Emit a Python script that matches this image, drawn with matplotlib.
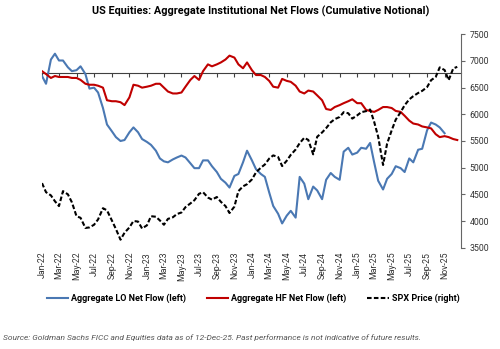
import matplotlib.pyplot as plt
import matplotlib.dates as mdates
import pandas as pd

plt.rcParams["font.family"] = ["Roboto", "DejaVu Sans"]

# semi-monthly observations, Jan-22 .. Dec-25
dates = pd.date_range("2022-01-01", "2025-12-15", freq="SMS")

# cumulative notional net flows, $bn (left axis, hidden)
lo_flow = [-3, -11, 14, 20, 13, 13, 6, 2, 3, 7,
           -1, -16, -15, -20, -36, -53, -60, -66, -70, -69,
           -61, -56, -61, -68, -71, -74, -80, -88, -91, -92,
           -89, -87, -85, -87, -93, -98, -98, -90, -90, -96,
           -102, -109, -113, -118, -106, -104, -92, -80, -90, -99,
           -104, -107, -123, -137, -145, -155, -147, -142, -149, -107,
           -114, -130, -117, -121, -130, -110, -103, -107, -110, -81,
           -77, -84, -82, -77, -78, -72, -92, -111, -120, -109,
           -104, -96, -98, -102, -88, -92, -79, -78, -59, -51,
           -53, -56, -62]
hf_flow = [2, -1, -5, -3, -4, -4, -4, -5, -5, -7,
           -11, -12, -12, -13, -15, -28, -29, -29, -30, -33,
           -25, -12, -13, -15, -14, -13, -11, -11, -15, -19,
           -21, -21, -20, -14, -7, -3, -7, 2, 9, 7,
           9, 11, 14, 18, 16, 9, 5, 11, 3, -2,
           -2, -4, -8, -14, -15, -6, -8, -9, -13, -19,
           -21, -18, -19, -23, -28, -37, -38, -35, -33, -31,
           -29, -27, -31, -31, -38, -39, -40, -38, -35, -35,
           -36, -39, -40, -44, -49, -52, -53, -55, -56, -57,
           -63, -66, -65, -66, -68, -69]

# S&P 500 level (right axis)
spx = [4710, 4540, 4480, 4370, 4280, 4560, 4500, 4350, 4090, 4060,
       3870, 3880, 3930, 4030, 4240, 4200, 4010, 3850, 3650, 3780,
       3880, 4000, 3990, 3860, 3920, 4090, 4080, 4010, 3930, 4040,
       4070, 4130, 4160, 4260, 4330, 4390, 4510, 4540, 4440, 4400,
       4450, 4360, 4280, 4150, 4270, 4560, 4650, 4690, 4780, 4910,
       5000, 5060, 5170, 5230, 5200, 5030, 5130, 5240, 5340, 5460,
       5560, 5520, 5250, 5580, 5660, 5740, 5850, 5910, 5950, 6040,
       6020, 5920, 5980, 6040, 6060, 6090, 5860, 5580, 5050, 5450,
       5700, 5900, 6040, 6170, 6280, 6340, 6400, 6440, 6510, 6640,
       6700, 6880, 6830, 6640, 6860, 6890]

tick_dates = pd.date_range("2022-01-01", "2025-11-01", freq="2MS")
flow_lim = (-180, 40)

BLUE = "#4a78b3"
RED = "#c00000"

fig = plt.figure(figsize=(5, 3.49), dpi=100)
ax = fig.add_axes([0.084, 0.2903, 0.838, 0.6114])
ax2 = ax.twinx()

lo_line, = ax.plot(dates[:len(lo_flow)], lo_flow, color=BLUE, lw=1.5)
hf_line, = ax.plot(dates, hf_flow, color=RED, lw=1.5)
spx_line, = ax2.plot(dates, spx, color="black", lw=1.5, ls=(0, (2.2, 1.1)))

ax.set_xlim(pd.Timestamp("2022-01-01"), pd.Timestamp("2025-12-28"))
ax.set_ylim(*flow_lim)
ax2.set_ylim(3500, 7500)
ax2.set_yticks(range(3500, 7501, 500))

for s in ax.spines.values():
    s.set_visible(False)
for s in ("left", "top", "bottom"):
    ax2.spines[s].set_visible(False)
ax2.spines["right"].set_color("#666666")
ax2.spines["right"].set_linewidth(0.8)

ax.tick_params(axis="y", left=False, labelleft=False)
ax.set_xticks(tick_dates)
ax.xaxis.set_major_formatter(mdates.DateFormatter("%b-%y"))
ax.tick_params(axis="x", length=0, labelsize=6.3, labelcolor="#333333",
               rotation=90, pad=3)
ax2.tick_params(axis="y", length=3, width=0.8, color="#666666",
                labelsize=6.3, labelcolor="#333333", pad=3)

# zero line of the flow axis, with ticks hanging off it
zero_frac = (0 - flow_lim[0]) / (flow_lim[1] - flow_lim[0])
zero_ax = ax.secondary_xaxis(zero_frac)
zero_ax.set_xticks(tick_dates)
zero_ax.tick_params(direction="in", length=3, width=0.8, color="#404040",
                    labeltop=False, labelbottom=False)
zero_ax.spines["top"].set_color("#404040")
zero_ax.spines["top"].set_linewidth(0.8)

fig.text(0.522, 0.968,
         "US Equities: Aggregate Institutional Net Flows (Cumulative Notional)",
         ha="center", va="center", fontsize=7.8, fontweight="bold")

fig.legend([lo_line, hf_line, spx_line],
           ["Aggregate LO Net Flow (left)", "Aggregate HF Net Flow (left)",
            "SPX Price (right)"],
           loc="center", bbox_to_anchor=(0.506, 0.146), ncol=3, frameon=False,
           prop={"weight": "bold", "size": 6.5}, handlelength=2.4,
           handletextpad=0.3, columnspacing=2.3)

fig.text(0.006, 0.032,
         "Source: Goldman Sachs FICC and Equities data as of 12-Dec-25. "
         "Past performance is not indicative of future results.",
         ha="left", va="center", fontsize=6.0, style="italic", color="#555555")

fig.savefig("out.png", dpi=100)
